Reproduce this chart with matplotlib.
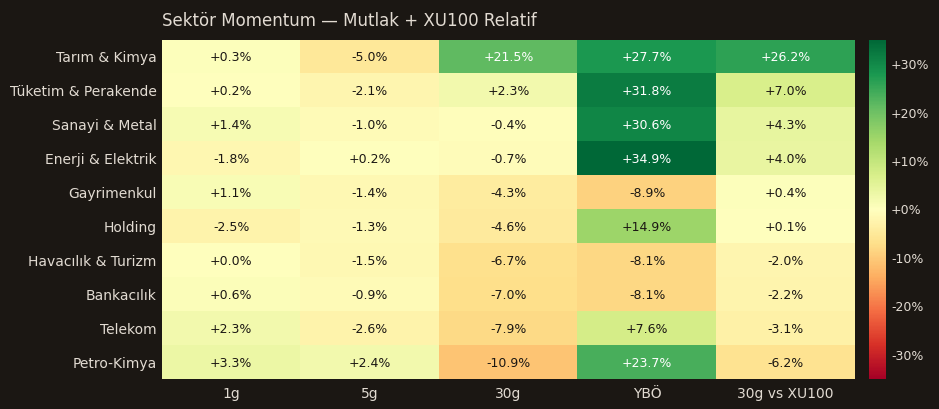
import numpy as np
import matplotlib
matplotlib.use("Agg")
from matplotlib import pyplot as plt

# data
sectors = ["Tarım & Kimya", "Tüketim & Perakende", "Sanayi & Metal", "Enerji & Elektrik",
           "Gayrimenkul", "Holding", "Havacılık & Turizm", "Bankacılık", "Telekom", "Petro-Kimya"]
periods = ["1g", "5g", "30g", "YBÖ", "30g vs XU100"]

d1 = [0.3, 0.2, 1.4, -1.8, 1.1, -2.5, 0.0, 0.6, 2.3, 3.3]
d5 = [-5.0, -2.1, -1.0, 0.2, -1.4, -1.3, -1.5, -0.9, -2.6, 2.4]
d30 = [21.5, 2.3, -0.4, -0.7, -4.3, -4.6, -6.7, -7.0, -7.9, -10.9]
ytd = [27.7, 31.8, 30.6, 34.9, -8.9, 14.9, -8.1, -8.1, 7.6, 23.7]
rel30 = [26.2, 7.0, 4.3, 4.0, 0.4, 0.1, -2.0, -2.2, -3.1, -6.2]

bg = "#1b1713"
fg = "#e2dbd2"

vals = np.array([d1, d5, d30, ytd, rel30]).T

fig = plt.figure(figsize=(9.39, 4.09), dpi=100, facecolor=bg)
ax = fig.add_axes([0.1725, 0.0733, 0.738, 0.829])
cax = fig.add_axes([0.9255, 0.0733, 0.0181, 0.829])
ax.set_facecolor(bg)

im = ax.imshow(vals, cmap="RdYlGn", vmin=-35, vmax=35, aspect="auto", interpolation="nearest")

for i in range(vals.shape[0]):
    for j in range(vals.shape[1]):
        v = vals[i, j]
        txtclr = "white" if abs(v) > 20 else "#1b1713"
        ax.text(j, i + 0.03, "%+.1f%%" % v, ha="center", va="center", fontsize=9, color=txtclr)

ax.set_xticks(range(len(periods)))
ax.set_xticklabels(periods, color=fg, fontsize=10)
ax.set_yticks(range(len(sectors)))
ax.set_yticklabels(sectors, color=fg, fontsize=10)
ax.tick_params(axis="x", length=0, pad=6)
ax.tick_params(axis="y", length=0, pad=4)
for s in ax.spines.values():
    s.set_visible(False)

ax.set_title("Sektör Momentum — Mutlak + XU100 Relatif", loc="left", color=fg, fontsize=12, pad=10)

cb = fig.colorbar(im, cax=cax)
cb.set_ticks([-30, -20, -10, 0, 10, 20, 30])
cb.set_ticklabels(["-30%", "-20%", "-10%", "+0%", "+10%", "+20%", "+30%"])
cb.ax.tick_params(colors=fg, length=0, labelsize=9)
cb.outline.set_visible(False)

fig.savefig("out.png", dpi=100, facecolor=bg)
